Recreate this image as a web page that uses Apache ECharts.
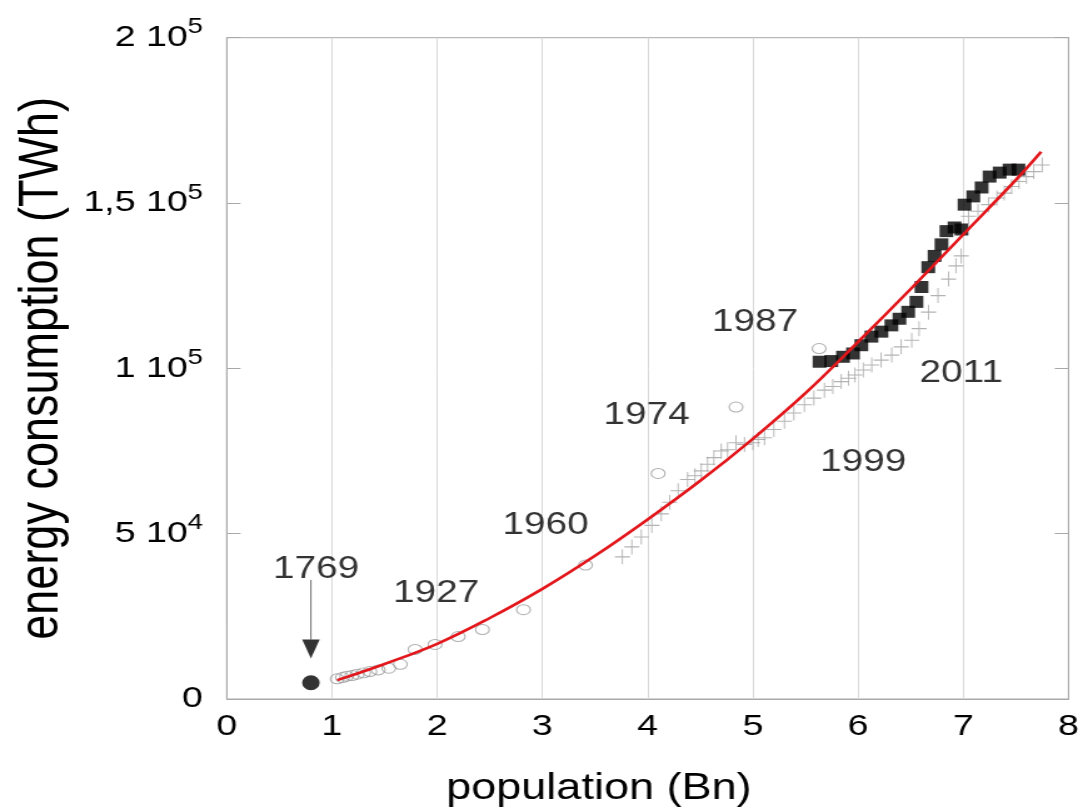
<!DOCTYPE html>
<html>
<head>
<meta charset="utf-8">
<script src="https://cdn.jsdelivr.net/npm/echarts@6/dist/echarts.min.js"></script>
<style>
  html, body { margin: 0; padding: 0; background: #fff; overflow: hidden; }
  #stage { width: 1083px; height: 812px; overflow: hidden; }
  /* the figure is drawn on a narrower canvas and widened to the page width */
  #chart { width: 866px; height: 812px; transform: scaleX(1.25058); transform-origin: 0 0; }
</style>
</head>
<body>
<div id="stage"><div id="chart"></div></div>
<script>
// World population (billions) versus primary energy consumption (TWh)

// open circles: historical estimates up to 1987
const circlePop    = [1.05, 1.10, 1.14, 1.19, 1.24, 1.30, 1.36, 1.44, 1.54, 1.65, 1.79, 1.98, 2.20, 2.43, 2.82, 3.41, 4.10, 4.84, 5.63];
const circleEnergy = [6100, 6500, 6900, 7100, 7500, 7900, 8300, 8800, 9300, 10500, 15000, 16500, 18900, 21000, 27000, 40500, 68200, 88300, 106000];

// crosses: yearly series from the 1960s on
const crossPop    = [3.76, 3.85, 3.94, 4.04, 4.13, 4.21, 4.29, 4.38, 4.45, 4.51, 4.57, 4.63, 4.70, 4.76, 4.84, 4.92, 5.00, 5.05, 5.11, 5.20,
                     5.30, 5.39, 5.49, 5.58, 5.68, 5.76, 5.84, 5.91, 5.97, 6.05, 6.13, 6.22, 6.32, 6.41, 6.51, 6.58, 6.67, 6.76, 6.86, 6.93,
                     6.98, 7.05, 7.14, 7.24, 7.32, 7.39, 7.46, 7.53, 7.60, 7.67, 7.75];
const crossEnergy = [43000, 46000, 49000, 52500, 56000, 59500, 63000, 66400, 67500, 69000, 71000, 73000, 75000, 75400, 77500, 77000, 77500, 78500, 79000, 81500,
                     84000, 86500, 89000, 91000, 93400, 94500, 96000, 97000, 98000, 99500, 101000, 102500, 104000, 106500, 108500, 112000, 117000, 122000, 127000, 131000,
                     134000, 146000, 147500, 149500, 151500, 153000, 155000, 156500, 158000, 159500, 161500];

// filled squares: 1987 to 2011
const squarePop    = [5.634, 5.746, 5.857, 5.952, 6.031, 6.127, 6.222, 6.317, 6.393, 6.476, 6.555, 6.603, 6.667, 6.727, 6.793, 6.840, 6.917, 6.983, 7.012, 7.095, 7.174, 7.250, 7.346, 7.440, 7.524];
const squareEnergy = [102000, 102200, 103500, 104500, 107000, 109600, 111100, 113000, 115000, 117100, 120100, 124600, 130600, 134000, 137500, 141500, 142600, 142000, 149500, 152000, 154700, 158000, 159200, 160100, 160100];

// 1769 reference point
const point1769Pop = [0.80];
const point1769Energy = [4900];

// fitted trend (red curve)
const fitPop    = [1.05, 1.5, 2, 2.5, 3, 3.5, 4, 4.5, 5, 5.5, 6, 6.5, 7, 7.5, 7.74];
const fitEnergy = [5700, 10600, 16700, 24500, 33300, 43300, 54300, 66000, 78700, 92500, 108000, 124000, 140500, 157000, 165500];

// year annotations, anchored in data coordinates
const yearLabels = ['1769', '1927', '1960', '1974', '1987', '1999', '2011'];
const yearLabelPop = [0.85, 1.99, 3.03, 3.99, 5.02, 6.05, 6.98];
const yearLabelEnergy = [39300, 31800, 52600, 85900, 113800, 71500, 98500];

// arrow pointing at the 1769 point
const arrowPop = [0.80, 0.80];
const arrowEnergy = [36000, 18000];
const arrowHeadEnergy = [15100];

// axis ticks
const xTicks = [0, 1, 2, 3, 4, 5, 6, 7, 8];
const yTickMantissa = ['0', '5', '1', '1,5', '2'];
const yTickExponent = ['', '4', '5', '5', '5'];

const FONT = "'Liberation Sans', Arial, sans-serif";
const TEXT = '#000000';
const zip = (xs, ys) => xs.map((x, i) => [x, ys[i]]);

const chart = echarts.init(document.getElementById('chart'), null, { renderer: 'canvas' });

const yAxisBase = {
  type: 'value',
  min: 0,
  max: 200000,
  interval: 50000,
  splitLine: { show: false },
  axisLine: { show: true, lineStyle: { color: '#a8a8a8', width: 1 } },
  axisTick: { show: true, inside: true, length: 11, lineStyle: { color: '#a8a8a8', width: 1 } }
};

chart.setOption({
  animation: false,
  backgroundColor: '#ffffff',
  grid: {
    left: 181.3, right: 11.6, top: 37.7, bottom: 109,
    show: true, borderColor: '#a8a8a8', borderWidth: 1, backgroundColor: 'transparent'
  },
  xAxis: {
    type: 'value',
    min: xTicks[0],
    max: xTicks[xTicks.length - 1],
    interval: 1,
    name: 'population (Bn)',
    nameLocation: 'middle',
    nameGap: 72,
    nameTextStyle: { fontFamily: FONT, fontSize: 36, color: TEXT, padding: [0, 78, 0, 0] },
    axisLine: { show: true, lineStyle: { color: '#a8a8a8', width: 1 } },
    axisTick: { show: false },
    splitLine: { show: true, lineStyle: { color: '#d9d9d9', width: 1 } },
    axisLabel: { fontFamily: FONT, fontSize: 30, color: TEXT, margin: 13,
      formatter: v => String(v) }
  },
  yAxis: [
    Object.assign({}, yAxisBase, {
      position: 'left',
      name: 'energy consumption (TWh)',
      nameLocation: 'middle',
      nameGap: 124,
      nameTextStyle: { fontFamily: FONT, fontSize: 45, color: TEXT },
      axisLabel: {
        fontFamily: FONT, fontSize: 30, color: TEXT, margin: 19,
        formatter: (v) => {
          const i = Math.round(v / 50000);
          return yTickExponent[i] ? yTickMantissa[i] + ' 10{sup|' + yTickExponent[i] + '}' : yTickMantissa[i];
        },
        rich: { sup: { fontFamily: FONT, fontSize: 22, color: TEXT, padding: [0, 0, 21, 0] } }
      }
    }),
    Object.assign({}, yAxisBase, { position: 'right', axisLabel: { show: false } })
  ],
  series: [
    {
      name: 'crosses', type: 'scatter', z: 2, silent: true,
      data: zip(crossPop, crossEnergy),
      symbol: 'path://M5,0L5,10M0,5L10,5', symbolSize: [12, 15],
      itemStyle: { color: 'transparent', borderColor: '#a0a0a0', borderWidth: 1 }
    },
    {
      name: 'circles', type: 'scatter', z: 3, silent: true,
      data: zip(circlePop, circleEnergy),
      symbol: 'circle', symbolSize: [11, 10],
      itemStyle: { color: 'transparent', borderColor: '#9a9a9a', borderWidth: 1 }
    },
    {
      name: 'squares', type: 'scatter', z: 4, silent: true,
      data: zip(squarePop, squareEnergy),
      symbol: 'rect', symbolSize: [11, 12],
      itemStyle: { color: '#000000' }
    },
    {
      name: 'fit', type: 'line', z: 5, silent: true,
      data: zip(fitPop, fitEnergy),
      smooth: 0.4, showSymbol: false, symbol: 'none',
      lineStyle: { color: '#e2161b', width: 2.6 }
    },
    {
      name: '1769', type: 'scatter', z: 5, silent: true,
      data: zip(point1769Pop, point1769Energy),
      symbol: 'circle', symbolSize: [14, 15],
      itemStyle: { color: '#000000' }
    },
    {
      name: 'arrow', type: 'line', z: 5, silent: true,
      data: zip(arrowPop, arrowEnergy),
      showSymbol: false, symbol: 'none',
      lineStyle: { color: '#6e6e6e', width: 1 }
    },
    {
      name: 'arrowHead', type: 'scatter', z: 5, silent: true,
      data: zip([arrowPop[0]], arrowHeadEnergy),
      symbol: 'path://M0,0L10,0L5,10Z', symbolSize: [14, 19],
      itemStyle: { color: '#000000' }
    },
    {
      name: 'years', type: 'scatter', z: 6, silent: true,
      data: yearLabels.map((t, i) => ({ name: t, value: [yearLabelPop[i], yearLabelEnergy[i]] })),
      symbolSize: 1,
      itemStyle: { color: 'transparent' },
      label: {
        show: true, position: 'inside', formatter: p => p.name,
        fontFamily: FONT, fontSize: 31, color: TEXT
      }
    }
  ]
});
</script>
</body>
</html>
